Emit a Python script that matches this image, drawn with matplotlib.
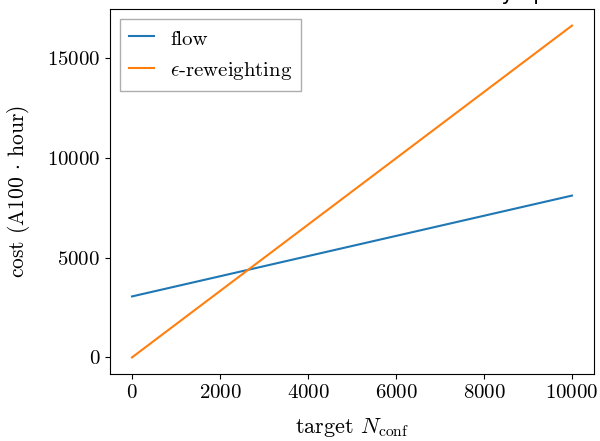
import numpy as np
import matplotlib
matplotlib.use("Agg")
import matplotlib.pyplot as plt
from matplotlib.ticker import MultipleLocator

plt.rcParams["font.family"] = "serif"
plt.rcParams["font.serif"] = ["cmr10"]
plt.rcParams["mathtext.fontset"] = "cm"
plt.rcParams["axes.unicode_minus"] = False
plt.rcParams["axes.formatter.use_mathtext"] = True

# target number of configurations
n_conf = [0, 10000]
# cost in A100 hours
cost_flow = [3060, 8120]
cost_reweight = [0, 16650]

fig = plt.figure(figsize=(6.0, 4.41), dpi=100)
fig.subplots_adjust(left=110/600, right=594/600, top=1-9/441, bottom=1-374/441)
ax = fig.add_subplot(111)

ax.plot(n_conf, cost_flow, label="flow")
ax.plot(n_conf, cost_reweight, label=r"$\epsilon$-reweighting")

ax.yaxis.set_major_locator(MultipleLocator(5000))
ax.set_xlabel(r"target $N_{\rm conf}$", fontsize=16, labelpad=10.5)
ax.set_ylabel(r"cost (A100 $\cdot$ hour)", fontsize=15.5, labelpad=11)
ax.tick_params(labelsize=15)

leg = ax.legend(loc="upper left", fontsize=15, fancybox=False,
                handlelength=1.2, handleheight=1.1)
leg.get_frame().set_edgecolor("0.6")

# title sits mostly above the saved area, only its bottom shows
fig.text(555/600, 1.0, "cost with memory opt", ha="right", va="baseline",
         family="DejaVu Sans", fontsize=15)

fig.savefig("out.png", dpi=100)
